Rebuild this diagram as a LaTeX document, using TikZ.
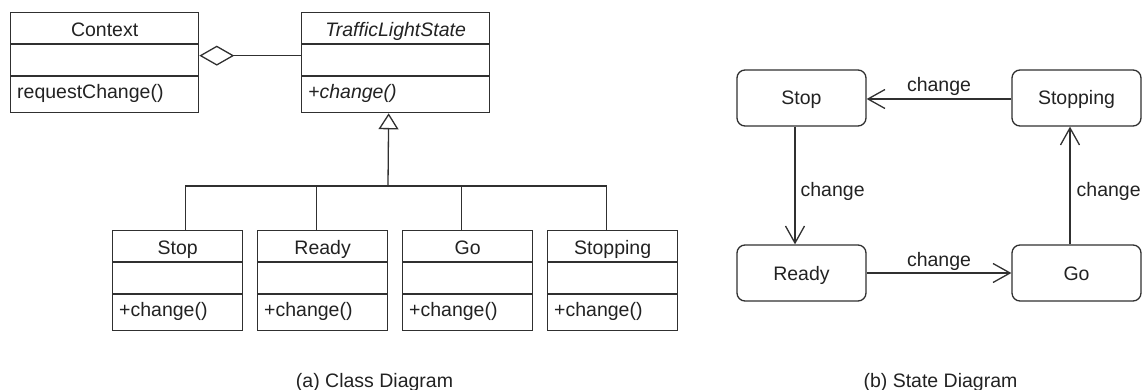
\documentclass[tikz,border=0pt]{standalone}
\usepackage{fontspec}
\setmainfont{Liberation Sans}
\usetikzlibrary{arrows.meta}
\definecolor{ink}{HTML}{303030}
\definecolor{txtc}{HTML}{222222}

% UML class box: name, left x, top y, width, title, operation
\newcommand\umlbox[6]{%
  \node[cls, minimum width=#4pt, anchor=north west] (#1) at (#2,#3) {};
  \draw[ln] ([yshift=-32pt]#1.north west) -- ([yshift=-32pt]#1.north east);
  \draw[ln] ([yshift=-64pt]#1.north west) -- ([yshift=-64pt]#1.north east);
  \node[lbl, anchor=base] (#1-title) at ([yshift=-25pt]#1.north) {#5};
  \node[lbl, anchor=base west] (#1-op) at ([xshift=7pt,yshift=-86.5pt]#1.north west) {#6};
}

\begin{document}
\begin{tikzpicture}[x=1pt,y=-1pt,
  ln/.style={draw=ink, line width=1.3pt},
  lbl/.style={text=txtc, font=\fontsize{19.5pt}{23pt}\selectfont, inner sep=0pt},
  cls/.style={ln, rectangle, inner sep=0pt, minimum height=100pt},
  st/.style={ln, rectangle, rounded corners=8pt, minimum width=129pt, minimum height=56pt,
    inner sep=0pt, text=txtc, font=\fontsize{19.5pt}{23pt}\selectfont,
    text height=14pt, text depth=0pt},
  trans/.style={ln, -{Straight Barb[length=17pt,width=19pt]}},
  gen/.style={ln, -{Triangle[open,length=16pt,width=20pt]}},
  agg/.style={ln, -{Diamond[open,length=35pt,width=20pt]}}]

\useasboundingbox (0,0) rectangle (1144,390);

% ---- class diagram ----
\umlbox{ctx}{10}{12}{188}{Context}{requestChange()}
\umlbox{tls}{301}{12}{188}{\textit{TrafficLightState}}{\textit{+change()}}
\umlbox{cstop}{112}{230}{130}{Stop}{+change()}
\umlbox{cready}{257}{230}{130}{Ready}{+change()}
\umlbox{cgo}{402}{230}{130}{Go}{+change()}
\umlbox{cstopping}{547}{230}{130}{Stopping}{+change()}

% aggregation
\draw[agg] ([yshift=7pt]tls.west) -- ([yshift=7pt]ctx.east);

% generalization tree
\coordinate (bar) at (388,186);
\draw[gen] (bar) -- ([xshift=-7pt]tls.south);
\draw[ln] ([xshift=8pt]cstop.north) |- (bar);
\draw[ln] ([xshift=-6pt]cstopping.north) |- (bar);
\draw[ln] ([xshift=-6pt]cready.north) -- ([xshift=-6pt]cready.north |- bar);
\draw[ln] ([xshift=-6pt]cgo.north) -- ([xshift=-6pt]cgo.north |- bar);

\node[lbl, anchor=base] (capa) at (374.5,387) {(a) Class Diagram};

% ---- state diagram ----
\node[st] (sstop) at (801.5,98) {Stop};
\node[st] (sstopping) at (1076.5,98) {Stopping};
\node[st] (sready) at (801.5,273) {Ready};
\node[st] (sgo) at (1076.5,273) {Go};

\draw[trans] ([yshift=-1pt]sstopping.west) -- node[lbl, anchor=base, yshift=7pt] (t1) {change} ([yshift=-1pt]sstop.east);
\draw[trans] ([xshift=-6.5pt]sstop.south) -- node[lbl, anchor=base west, xshift=5pt, yshift=-11pt] (t2) {change} ([xshift=-6.5pt]sready.north);
\draw[trans] (sready.east) -- node[lbl, anchor=base, yshift=6.5pt] (t3) {change} (sgo.west);
\draw[trans] ([xshift=-6.5pt]sgo.north) -- node[lbl, anchor=base west, xshift=6pt, yshift=-11pt] (t4) {change} ([xshift=-6.5pt]sstopping.south);

\node[lbl, anchor=base] (capb) at (940.5,387) {(b) State Diagram};
\end{tikzpicture}
\end{document}
